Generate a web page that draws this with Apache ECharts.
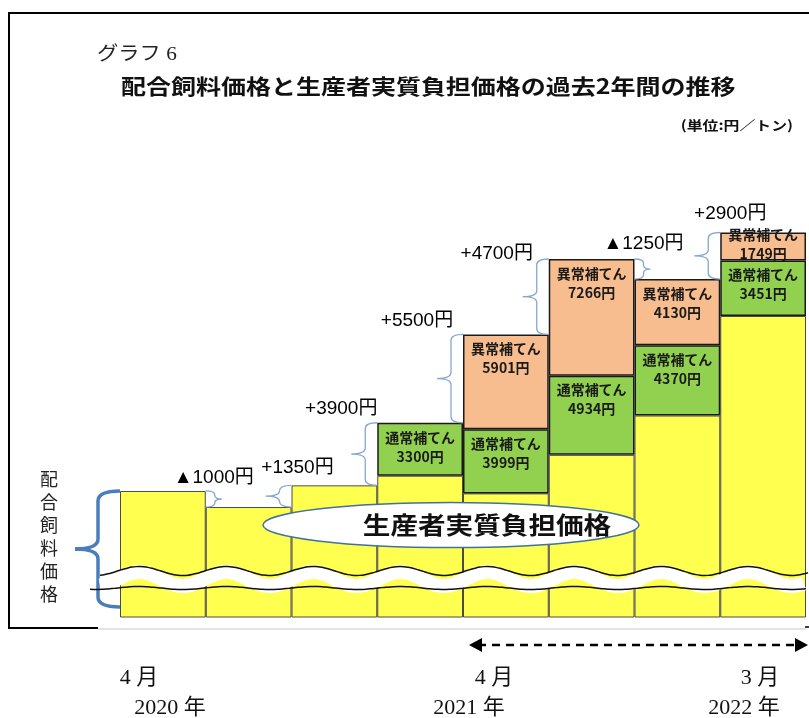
<!DOCTYPE html>
<html lang="ja">
<head>
    <meta charset="UTF-8">
    <title>グラフ6</title>
    <script type="text/javascript" src="https://cdn.jsdelivr.net/npm/echarts@6/dist/echarts.min.js"></script>
    <style>
        html, body { margin: 0; padding: 0; background: #fff; }
        #main { width: 809px; height: 718px; }
    </style>
</head>
<body>
<div id="main"></div>

<script>
    // 四半期（2020年4-6月 〜 2022年1-3月）
    var categories = ['2020年4-6月', '2020年7-9月', '2020年10-12月', '2021年1-3月',
        '2021年4-6月', '2021年7-9月', '2021年10-12月', '2022年1-3月'];
    // 配合飼料価格（円/トン、縦軸は省略表示なので水準は推定）
    var feedPrice = [67000, 66000, 67350, 71250, 76750, 81450, 80200, 83100];
    // 生産者実質負担価格
    var burdenPrice = [67000, 66000, 67350, 67950, 66850, 69250, 71700, 77900];
    // 通常補てん・異常補てん
    var normalFill = [0, 0, 0, 3300, 3999, 4934, 4370, 3451];
    var specialFill = [0, 0, 0, 0, 5901, 7266, 4130, 1749];
    // 前期からの価格変動
    var priceChange = [-1000, 1350, 3900, 5500, 4700, -1250, 2900];
    // 下の期間ラベル
    var periodMonth = ['4 月', '4 月', '3 月'];
    var periodYear = ['2020 年', '2021 年', '2022 年'];

    var JP = '"Noto Sans CJK JP", sans-serif';
    var SERIF = '"Liberation Serif", "DejaVu Serif", "Noto Sans CJK JP", serif';
    var SANS = '"Liberation Sans", "DejaVu Sans", "Noto Sans CJK JP", sans-serif';

    // 変動ラベルの位置調整（境界x, 括弧上端 からのずれ）
    var annoOffset = [[8, -13], [6, -18], [-36, -14], [-46, -14], [-52, -5], [9, -15], [10, -19]];

    function hideZero(arr) {
        return arr.map(function (v) { return v === 0 ? '-' : v; });
    }

    function bracePath(xe, xv, xt, yTop, yBot, rMax) {
        var ym = (yTop + yBot) / 2;
        var r = Math.min(rMax, (yBot - yTop) / 4);
        return 'M' + xe + ',' + yTop + ' Q' + xv + ',' + yTop + ' ' + xv + ',' + (yTop + r) +
            ' L' + xv + ',' + (ym - r) + ' Q' + xv + ',' + ym + ' ' + xt + ',' + ym +
            ' Q' + xv + ',' + ym + ' ' + xv + ',' + (ym + r) +
            ' L' + xv + ',' + (yBot - r) + ' Q' + xv + ',' + yBot + ' ' + xe + ',' + yBot;
    }

    // graphic 用：括弧を線と曲線で組み立てる
    function braceParts(xe, xv, xt, yTop, yBot, rMax, style, z) {
        var ym = (yTop + yBot) / 2;
        var r = Math.min(rMax, (yBot - yTop) / 4);
        function q(x1, y1, cx, cy, x2, y2) {
            return { type: 'bezierCurve', z: z, shape: { x1: x1, y1: y1, cpx1: cx, cpy1: cy, x2: x2, y2: y2 }, style: style };
        }
        function l(x1, y1, x2, y2) {
            return { type: 'line', z: z, shape: { x1: x1, y1: y1, x2: x2, y2: y2 }, style: style };
        }
        return [
            q(xe, yTop, xv, yTop, xv, yTop + r),
            l(xv, yTop + r, xv, ym - r),
            q(xv, ym - r, xv, ym, xt, ym),
            q(xt, ym, xv, ym, xv, ym + r),
            l(xv, ym + r, xv, yBot - r),
            q(xv, yBot - r, xv, yBot, xe, yBot)
        ];
    }

    var innerLabel = {
        show: true,
        position: 'insideTop',
        distance: 5,
        fontFamily: JP,
        fontSize: 14,
        fontWeight: 'bold',
        lineHeight: 19,
        color: '#1a1a1a',
        formatter: function (p) {
            return p.seriesName + '\n' + p.value + '円';
        }
    };

    var specialData = hideZero(specialFill).map(function (v, i) {
        // 最終期は枠が低いのでラベルを上へ
        return i === specialFill.length - 1 ? { value: v, label: { distance: -7 } } : v;
    });

    var changeData = priceChange.map(function (c, i) {
        return [i, feedPrice[i], feedPrice[i + 1], c];
    });

    var myChart = echarts.init(document.getElementById('main'));
    myChart.setOption({
        animation: false,
        backgroundColor: '#fff',
        grid: { left: 120, right: 3, top: 202, bottom: 101 },
        xAxis: {
            type: 'category',
            data: categories,
            show: false
        },
        yAxis: {
            type: 'value',
            min: 59150,
            max: 85000,
            show: false
        },
        series: [{
            name: '生産者実質負担価格',
            type: 'bar',
            stack: 'feed',
            barCategoryGap: '0%',
            data: burdenPrice,
            itemStyle: { color: '#ffff4f', borderColor: '#4a4a4a', borderWidth: 1 }
        }, {
            name: '通常補てん',
            type: 'bar',
            stack: 'feed',
            data: hideZero(normalFill),
            itemStyle: { color: '#92d050', borderColor: '#1a1a1a', borderWidth: 1.5 },
            label: innerLabel
        }, {
            name: '異常補てん',
            type: 'bar',
            stack: 'feed',
            data: specialData,
            itemStyle: { color: '#f8bd8e', borderColor: '#1a1a1a', borderWidth: 1.5 },
            label: innerLabel
        }, {
            // 変動幅の括弧と金額
            type: 'custom',
            z: 10,
            data: changeData,
            encode: { x: 0, y: 1 },
            renderItem: function (params, api) {
                var i = api.value(0);
                var c = api.value(3);
                var p0 = api.coord([i, api.value(1)]);
                var p1 = api.coord([i + 1, api.value(2)]);
                var band = api.size([1, 0])[0];
                var xb = p0[0] + band / 2;
                var yTop = Math.min(p0[1], p1[1]);
                var yBot = Math.max(p0[1], p1[1]);
                var d;
                if (c > 0) {
                    d = bracePath(xb, xb - 12, xb - 26, yTop, yBot, 6);
                } else {
                    d = bracePath(xb, xb + 9, xb + 16, yTop, yBot, 4);
                }
                var off = annoOffset[params.dataIndex];
                var txt = (c > 0 ? '+' : '▲') + Math.abs(c) + '円';
                return {
                    type: 'group',
                    children: [{
                        type: 'path',
                        shape: { pathData: d },
                        style: { stroke: '#86a6d2', fill: null, lineWidth: 1.3 }
                    }, {
                        type: 'text',
                        x: xb + off[0],
                        y: yTop + off[1],
                        style: {
                            text: txt,
                            fill: '#000',
                            fontFamily: SANS,
                            fontSize: 19,
                            align: 'center',
                            verticalAlign: 'middle',
                            textAlign: 'center',
                            textVerticalAlign: 'middle'
                        }
                    }]
                };
            }
        }]
    });

    // 装飾（枠・タイトル・波線・楕円など）
    var top1 = myChart.convertToPixel({ gridIndex: 0 }, [0, feedPrice[0]])[1];

    function wave(y0, amp, x0, x1, phase) {
        var pts = [];
        for (var x = x0; x <= x1; x += 4) {
            pts.push([x, y0 + amp * Math.sin((x - phase) / 87 * 2 * Math.PI)]);
        }
        return pts;
    }

    var gfx = [];
    // 枠線
    gfx.push({ type: 'polyline', z: 1, shape: { points: [[809, 13], [9, 13], [9, 628], [98, 628]] },
        style: { stroke: '#000', lineWidth: 2, fill: null } });
    gfx.push({ type: 'line', z: 1, shape: { x1: 98, y1: 629, x2: 806, y2: 629 },
        style: { stroke: '#c8c8c8', lineWidth: 1.2 } });
    gfx.push({ type: 'line', z: 1, shape: { x1: 805, y1: 627, x2: 809, y2: 627 },
        style: { stroke: '#000', lineWidth: 1.5 } });

    // タイトル
    gfx.push({ type: 'text', x: 97, y: 55, z: 100, scaleX: 1.12,
        style: { text: 'グラフ 6', fill: '#222', fontFamily: SERIF, fontSize: 19,
            verticalAlign: 'middle', textVerticalAlign: 'middle' } });
    gfx.push({ type: 'text', x: 121, y: 86, z: 100, scaleX: 1.19,
        style: { text: '配合飼料価格と生産者実質負担価格の過去2年間の推移', fill: '#111', fontFamily: JP,
            fontSize: 21, fontWeight: 'bold', verticalAlign: 'middle', textVerticalAlign: 'middle' } });
    gfx.push({ type: 'text', x: 793, y: 125, z: 100, scaleX: 1.22,
        style: { text: '(単位:円／トン)', fill: '#111', fontFamily: JP, fontSize: 13, fontWeight: 'bold',
            align: 'right', textAlign: 'right', verticalAlign: 'middle', textVerticalAlign: 'middle' } });

    // 左の縦書きラベルと括弧
    gfx.push({ type: 'text', x: 49, y: 468, z: 100,
        style: { text: '配合飼料価格'.split('').join('\n'), fill: '#222', fontFamily: JP, fontSize: 18,
            lineHeight: 23, align: 'center', textAlign: 'center', verticalAlign: 'top', textVerticalAlign: 'top' } });
    gfx = gfx.concat(braceParts(120, 98, 75, top1, 607, 10,
        { stroke: '#4a7ebb', lineWidth: 3.5, fill: null }, 100));

    // 省略の波線
    gfx.push({ type: 'polyline', z: 100, shape: { points: wave(579, 7, 100, 806, 248), smooth: 0.3 },
        style: { stroke: '#fff', lineWidth: 14, fill: null } });
    gfx.push({ type: 'polyline', z: 101, shape: { points: wave(571, 4.5, 100, 809, 248), smooth: 0.3 },
        style: { stroke: '#111', lineWidth: 1.5, fill: null } });
    gfx.push({ type: 'polyline', z: 101, shape: { points: wave(588, 1.5, 90, 809, 248), smooth: 0.3 },
        style: { stroke: '#111', lineWidth: 1.5, fill: null } });

    // 楕円
    gfx.push({ type: 'ellipse', z: 102, shape: { cx: 451, cy: 525, rx: 188, ry: 22.5 },
        style: { fill: '#fff', stroke: '#41719c', lineWidth: 1.5 } });
    gfx.push({ type: 'text', x: 487, y: 525, z: 103, scaleX: 1.15,
        style: { text: '生産者実質負担価格', fill: '#111', fontFamily: JP, fontSize: 24, fontWeight: 'bold',
            align: 'center', textAlign: 'center', verticalAlign: 'middle', textVerticalAlign: 'middle' } });

    // 期間の矢印
    gfx.push({ type: 'line', z: 100, shape: { x1: 478, y1: 645, x2: 798, y2: 645 },
        style: { stroke: '#000', lineWidth: 2.5, lineDash: [8, 6] } });
    gfx.push({ type: 'polygon', z: 100, shape: { points: [[469, 645], [482, 638], [482, 652]] },
        style: { fill: '#000' } });
    gfx.push({ type: 'polygon', z: 100, shape: { points: [[808, 645], [795, 638], [795, 652]] },
        style: { fill: '#000' } });

    // 期間ラベル
    var monthX = [139, 494, 760];
    var yearX = [170, 469, 744];
    for (var k = 0; k < periodMonth.length; k++) {
        gfx.push({ type: 'text', x: monthX[k], y: 678, z: 100,
            style: { text: periodMonth[k], fill: '#111', fontFamily: SERIF, fontSize: 22,
                align: 'center', textAlign: 'center', verticalAlign: 'middle', textVerticalAlign: 'middle' } });
        gfx.push({ type: 'text', x: yearX[k], y: 708, z: 100,
            style: { text: periodYear[k], fill: '#111', fontFamily: SERIF, fontSize: 22,
                align: 'center', textAlign: 'center', verticalAlign: 'middle', textVerticalAlign: 'middle' } });
    }

    myChart.setOption({ graphic: { elements: gfx } });
</script>

</body>
</html>
